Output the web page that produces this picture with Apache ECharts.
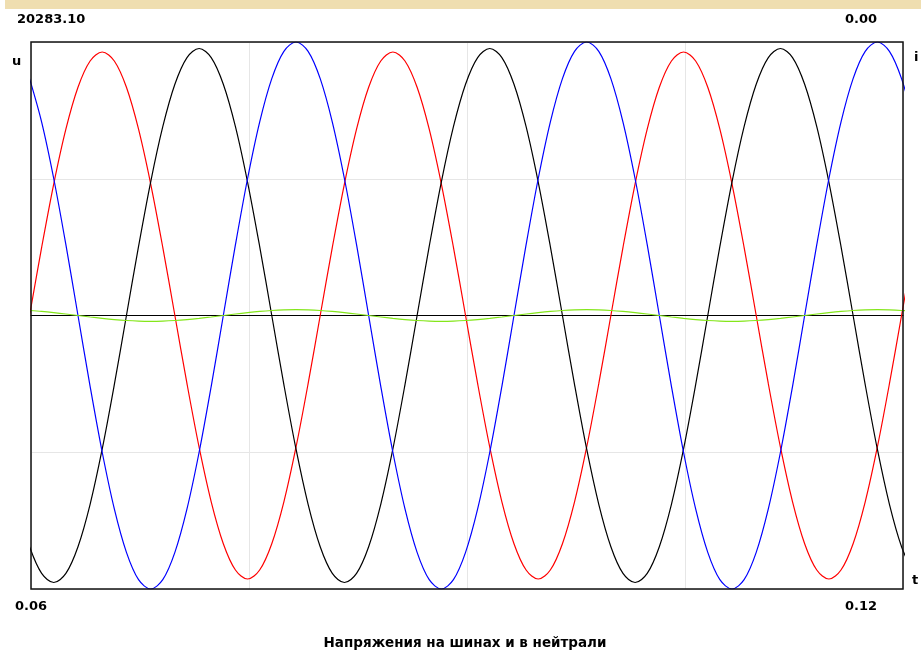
<!DOCTYPE html>
<html>
<head>
<meta charset="utf-8">
<script src="https://cdn.jsdelivr.net/npm/echarts@6/dist/echarts.min.js"></script>
<style>
  html, body { margin: 0; padding: 0; background: #fff; }
  #chart { width: 921px; height: 651px; }
</style>
</head>
<body>
<div id="chart"></div>
<script>
// Sample times, s (every 1/24 of a 50 Hz period)
const times = [
  0.0599, 0.060733, 0.061567, 0.0624, 0.063233, 0.064067, 0.0649, 0.065733, 0.066567, 0.0674, 0.068233, 0.069067,
  0.0699, 0.070733, 0.071567, 0.0724, 0.073233, 0.074067, 0.0749, 0.075733, 0.076567, 0.0774, 0.078233, 0.079067,
  0.0799, 0.080733, 0.081567, 0.0824, 0.083233, 0.084067, 0.0849, 0.085733, 0.086567, 0.0874, 0.088233, 0.089067,
  0.0899, 0.090733, 0.091567, 0.0924, 0.093233, 0.094067, 0.0949, 0.095733, 0.096567, 0.0974, 0.098233, 0.099067,
  0.0999, 0.100733, 0.101567, 0.1024, 0.103233, 0.104067, 0.1049, 0.105733, 0.106567, 0.1074, 0.108233, 0.109067,
  0.1099, 0.110733, 0.111567, 0.1124, 0.113233, 0.114067, 0.1149, 0.115733, 0.116567, 0.1174, 0.118233, 0.119067,
  0.1199, 0.120733
];

// Bus phase voltages, V
const uA = [
  0, 5057, 9770, 13817, 16922, 18874, 19540, 18874, 16922, 13817, 9770, 5057,
  0, -5057, -9770, -13817, -16922, -18874, -19540, -18874, -16922, -13817, -9770, -5057,
  0, 5057, 9770, 13817, 16922, 18874, 19540, 18874, 16922, 13817, 9770, 5057,
  0, -5057, -9770, -13817, -16922, -18874, -19540, -18874, -16922, -13817, -9770, -5057,
  0, 5057, 9770, 13817, 16922, 18874, 19540, 18874, 16922, 13817, 9770, 5057,
  0, -5057, -9770, -13817, -16922, -18874, -19540, -18874, -16922, -13817, -9770, -5057,
  0, 5057
];
const uB = [
  -17147, -19125, -19800, -19125, -17147, -14001, -9900, -5125, 0, 5125, 9900, 14001,
  17147, 19125, 19800, 19125, 17147, 14001, 9900, 5125, 0, -5125, -9900, -14001,
  -17147, -19125, -19800, -19125, -17147, -14001, -9900, -5125, 0, 5125, 9900, 14001,
  17147, 19125, 19800, 19125, 17147, 14001, 9900, 5125, 0, -5125, -9900, -14001,
  -17147, -19125, -19800, -19125, -17147, -14001, -9900, -5125, 0, 5125, 9900, 14001,
  17147, 19125, 19800, 19125, 17147, 14001, 9900, 5125, 0, -5125, -9900, -14001,
  -17147, -19125
];
const uC = [
  17566, 14342, 10142, 5250, 0, -5250, -10142, -14342, -17566, -19592, -20283, -19592,
  -17566, -14342, -10142, -5250, 0, 5250, 10142, 14342, 17566, 19592, 20283, 19592,
  17566, 14342, 10142, 5250, 0, -5250, -10142, -14342, -17566, -19592, -20283, -19592,
  -17566, -14342, -10142, -5250, 0, 5250, 10142, 14342, 17566, 19592, 20283, 19592,
  17566, 14342, 10142, 5250, 0, -5250, -10142, -14342, -17566, -19592, -20283, -19592,
  -17566, -14342, -10142, -5250, 0, 5250, 10142, 14342, 17566, 19592, 20283, 19592,
  17566, 14342
];
// Neutral voltage, V
const uN = [
  372, 304, 215, 111, 0, -111, -215, -304, -372, -415, -430, -415,
  -372, -304, -215, -111, 0, 111, 215, 304, 372, 415, 430, 415,
  372, 304, 215, 111, 0, -111, -215, -304, -372, -415, -430, -415,
  -372, -304, -215, -111, 0, 111, 215, 304, 372, 415, 430, 415,
  372, 304, 215, 111, 0, -111, -215, -304, -372, -415, -430, -415,
  -372, -304, -215, -111, 0, 111, 215, 304, 372, 415, 430, 415,
  372, 304
];

// Scale readouts and axis captions
const uMax = 20283.10;
const iMax = 0.00;
const tStart = 0.06;
const tEnd = 0.12;
const tLabels = ['0.06', '0.12'];
const axisNames = { u: 'u', i: 'i', t: 't' };
const title = 'Напряжения на шинах и в нейтрали';

const pairs = (ys) => times.map((t, k) => [t, ys[k]]);

const font = 'DejaVu Sans, Verdana, sans-serif';
const txt = (x, y, text, align, size) => ({
  type: 'text', x: x, y: y, silent: true,
  style: { text: text, font: 'bold ' + (size || 13) + 'px ' + font, fill: '#000',
           textAlign: align || 'left', textVerticalAlign: 'middle' }
});

const lineSeries = (name, ys, color) => ({
  name: name, type: 'line', data: pairs(ys), showSymbol: false,
  smooth: 0.33, clip: true, animation: false,
  lineStyle: { color: color, width: 1.2 }
});

const chart = echarts.init(document.getElementById('chart'), null, { renderer: 'canvas' });
chart.setOption({
  backgroundColor: '#ffffff',
  animation: false,
  grid: { left: 31, right: 18, top: 42, bottom: 62, show: true,
          borderColor: 'transparent', borderWidth: 0, backgroundColor: 'transparent' },
  xAxis: {
    type: 'value', min: tStart, max: tEnd, interval: 0.015,
    axisLine: { show: true, onZero: true, lineStyle: { color: '#000', width: 1.2 } },
    axisTick: { show: false }, axisLabel: { show: false },
    splitLine: { show: true, lineStyle: { color: '#e6e6e6', width: 1 } }
  },
  yAxis: {
    type: 'value', min: -uMax, max: uMax, interval: uMax / 2,
    axisLine: { show: false }, axisTick: { show: false }, axisLabel: { show: false },
    splitLine: { show: true, lineStyle: { color: '#e6e6e6', width: 1 } }
  },
  series: [
    lineSeries('Ua', uA, '#ff0000'),
    lineSeries('Ub', uB, '#000000'),
    lineSeries('Uc', uC, '#0000ff'),
    lineSeries('Un', uN, '#84e61a')
  ],
  graphic: [
    { type: 'rect', shape: { x: 5, y: 0, width: 916, height: 9 }, style: { fill: '#efdeb0' }, silent: true },
    // plot frame, drawn above the grid lines
    { type: 'rect', z: 10, silent: true,
      shape: { x: 31, y: 42, width: 872, height: 547 },
      style: { fill: 'none', stroke: '#111', lineWidth: 1.5 } },
    txt(17, 20, uMax.toFixed(2)),
    txt(877, 20, iMax.toFixed(2), 'right'),
    txt(12, 62, axisNames.u),
    txt(914, 58, axisNames.i),
    txt(912, 581, axisNames.t),
    txt(15, 607, tLabels[0]),
    txt(877, 607, tLabels[1], 'right'),
    txt(465, 643, title, 'center', 13.5)
  ]
});
</script>
</body>
</html>
